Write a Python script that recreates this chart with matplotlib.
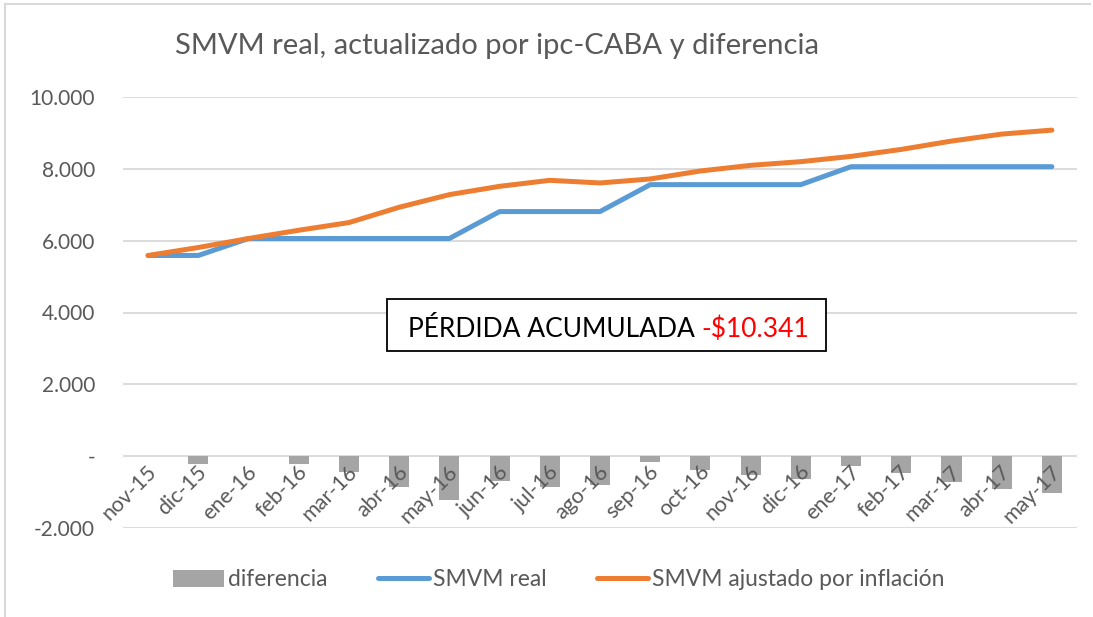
import matplotlib
matplotlib.use("Agg")
import matplotlib.pyplot as plt
from matplotlib.patches import Rectangle, Patch
from matplotlib.lines import Line2D
import numpy as np

plt.rcParams['font.family'] = ['Lato', 'DejaVu Sans']

categories = ["nov-15", "dic-15", "ene-16", "feb-16", "mar-16", "abr-16", "may-16",
              "jun-16", "jul-16", "ago-16", "sep-16", "oct-16", "nov-16", "dic-16",
              "ene-17", "feb-17", "mar-17", "abr-17", "may-17"]
smvm_real = [5588, 5588, 6060, 6060, 6060, 6060, 6060, 6810, 6810, 6810,
             7560, 7560, 7560, 7560, 8060, 8060, 8060, 8060, 8060]
smvm_ajustado = [5588, 5810, 6060, 6290, 6504, 6930, 7282, 7513, 7680, 7607,
                 7718, 7940, 8097, 8200, 8347, 8541, 8773, 8967, 9078]
diferencia = [r - a for r, a in zip(smvm_real, smvm_ajustado)]
yticks = [-2000, 0, 2000, 4000, 6000, 8000, 10000]
ytick_labels = ["-2.000", "-", "2.000", "4.000", "6.000", "8.000", "10.000"]
title = "SMVM real, actualizado por ipc-CABA y diferencia"
box_black = "PÉRDIDA ACUMULADA "
box_red = "-$10.341"

TXT = "#595959"
BLUE = "#5B9BD5"
ORANGE = "#ED7D31"
GRAY = "#A5A5A5"
GRID = "#D9D9D9"

W, H = 1093, 617
fig = plt.figure(figsize=(W / 100, H / 100), dpi=100)
fig.patch.set_facecolor("white")

def fx(px):
    return px / W

def fy(py):
    return 1 - py / H

ax = fig.add_axes([fx(123), fy(528), fx(1077) - fx(123), fy(97) - fy(528)])
x = np.arange(len(categories))
ax.bar(x, diferencia, width=0.4, color=GRAY, zorder=2)
ax.plot(x, smvm_real, color=BLUE, lw=3.6, solid_capstyle="round", solid_joinstyle="round", zorder=3)
ax.plot(x, smvm_ajustado, color=ORANGE, lw=3.6, solid_capstyle="round", solid_joinstyle="round", zorder=4)

ax.set_xlim(-0.5, len(categories) - 0.5)
ax.set_ylim(-2000, 10000)
ax.set_yticks(yticks)
ax.set_yticklabels(ytick_labels)
ax.yaxis.grid(True, color=GRID, lw=1.3)
ax.set_axisbelow(True)
for s in ax.spines.values():
    s.set_visible(False)
ax.tick_params(axis="y", length=0, pad=20, labelsize=15, labelcolor=TXT)
ax.set_xticks([])

for xi, lab in zip(x, categories):
    ax.text(xi - 0.03, -150, lab, rotation=45, ha="right", va="top",
            rotation_mode="anchor", fontsize=15.5, color=TXT, zorder=5)

fig.text(fx(175), fy(46), title, fontsize=21, color=TXT, ha="left", va="center")

# annotation box
fig.patches.append(Rectangle((fx(387), fy(351)), fx(826) - fx(387), fy(299) - fy(351),
                             transform=fig.transFigure, fill=True, facecolor="white",
                             edgecolor="black", lw=1.3, zorder=10))
t1 = fig.text(fx(408), fy(337), box_black, fontsize=19, color="black",
              ha="left", va="baseline", zorder=11)
fig.canvas.draw()
bb = t1.get_window_extent(renderer=fig.canvas.get_renderer())
fig.text(bb.x1 / fig.bbox.width, fy(337), box_red, fontsize=19, color="#FF0000",
         ha="left", va="baseline", zorder=11)

# frame
fig.add_artist(Line2D([fx(5), fx(1090)], [fy(4), fy(4)], color=GRID, lw=1.5))
fig.add_artist(Line2D([fx(5), fx(5)], [fy(4), 0], color=GRID, lw=1.5))

handles = [Patch(facecolor=GRAY, edgecolor="none"),
           Line2D([0], [0], color=BLUE, lw=3.6, solid_capstyle="round"),
           Line2D([0], [0], color=ORANGE, lw=3.6, solid_capstyle="round")]
labels = ["diferencia", "SMVM real", "SMVM ajustado por inflación"]
fig.legend(handles, labels, loc="center", bbox_to_anchor=(fx(559), fy(580)), ncol=3,
           frameon=False, fontsize=16.5, labelcolor=TXT, handlelength=2.2,
           handletextpad=0.2, columnspacing=2.2, handleheight=0.7)

fig.savefig("out.png", dpi=100, facecolor="white")
